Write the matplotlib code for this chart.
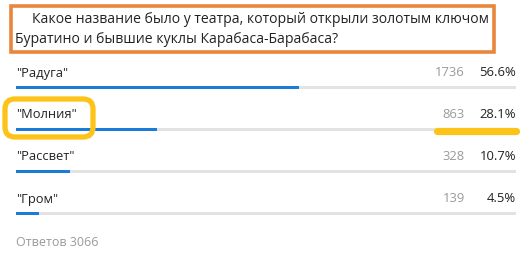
import matplotlib
matplotlib.use("Agg")
import matplotlib.pyplot as plt
from matplotlib.patches import FancyBboxPatch, Rectangle

plt.rcParams['font.family'] = ['Open Sans', 'DejaVu Sans']

question = ["Какое название было у театра, который открыли золотым ключом",
            "Буратино и бывшие куклы Карабаса-Барабаса?"]
options = ['"Радуга"', '"Молния"', '"Рассвет"', '"Гром"']
votes = [1736, 863, 328, 139]
percents = [56.6, 28.1, 10.7, 4.5]
total_label = "Ответов 3066"

W, H = 530, 257
fig = plt.figure(figsize=(W / 100, H / 100), dpi=100)
fig.patch.set_facecolor("white")

# bar axes: x in percent, y in pixel rows from the top
ax = fig.add_axes([16 / W, 0, 500 / W, 1])
ax.set_xlim(0, 100)
ax.set_ylim(H, 0)
ax.axis("off")

blue = "#1b7bd8"
track = "#e3e3e3"
grey = "#9a9a9a"
text_c = "#222222"

bar_y0, row_gap = 87.5, 42.0
for i, (name, v, p) in enumerate(zip(options, votes, percents)):
    y = bar_y0 + i * row_gap
    ax.barh(y, 100, height=3.6, color=track, linewidth=0)
    ax.barh(y, p, height=3.6, color=blue, linewidth=0)
    ty = y - 14.5
    ax.text(0, ty, name, fontsize=9.3, color=text_c, ha="left", va="center")
    ax.text(89.8, ty, f"{v}", fontsize=9.4, color=grey, ha="right", va="center")
    ax.text(100, ty, f"{p:.1f}%", fontsize=9.4, color=text_c, ha="right", va="center")

ax.text(0, 243, total_label, fontsize=9.0, color=grey, ha="left", va="center")

# overlay in pixel coordinates for the question box and highlights
ov = fig.add_axes([0, 0, 1, 1])
ov.set_xlim(0, W)
ov.set_ylim(H, 0)
ov.axis("off")
ov.patch.set_alpha(0)

ov.add_patch(Rectangle((10.5, 5.5), 483.5, 46.5, fill=False,
                       edgecolor="#e8873c", linewidth=2.6))
ov.text(32, 19.5, question[0], fontsize=10.1, color=text_c, ha="left", va="center")
ov.text(15, 39.5, question[1], fontsize=10.1, color=text_c, ha="left", va="center")

yellow = "#fcc419"
ov.add_patch(FancyBboxPatch((5, 99), 88, 38,
                            boxstyle="round,pad=0,rounding_size=10",
                            fill=False, edgecolor=yellow, linewidth=3.8))
ov.plot([437, 516], [130.5, 130.5], color=yellow, linewidth=5.2,
        solid_capstyle="round")

fig.savefig("out.png", dpi=100, facecolor="white")
